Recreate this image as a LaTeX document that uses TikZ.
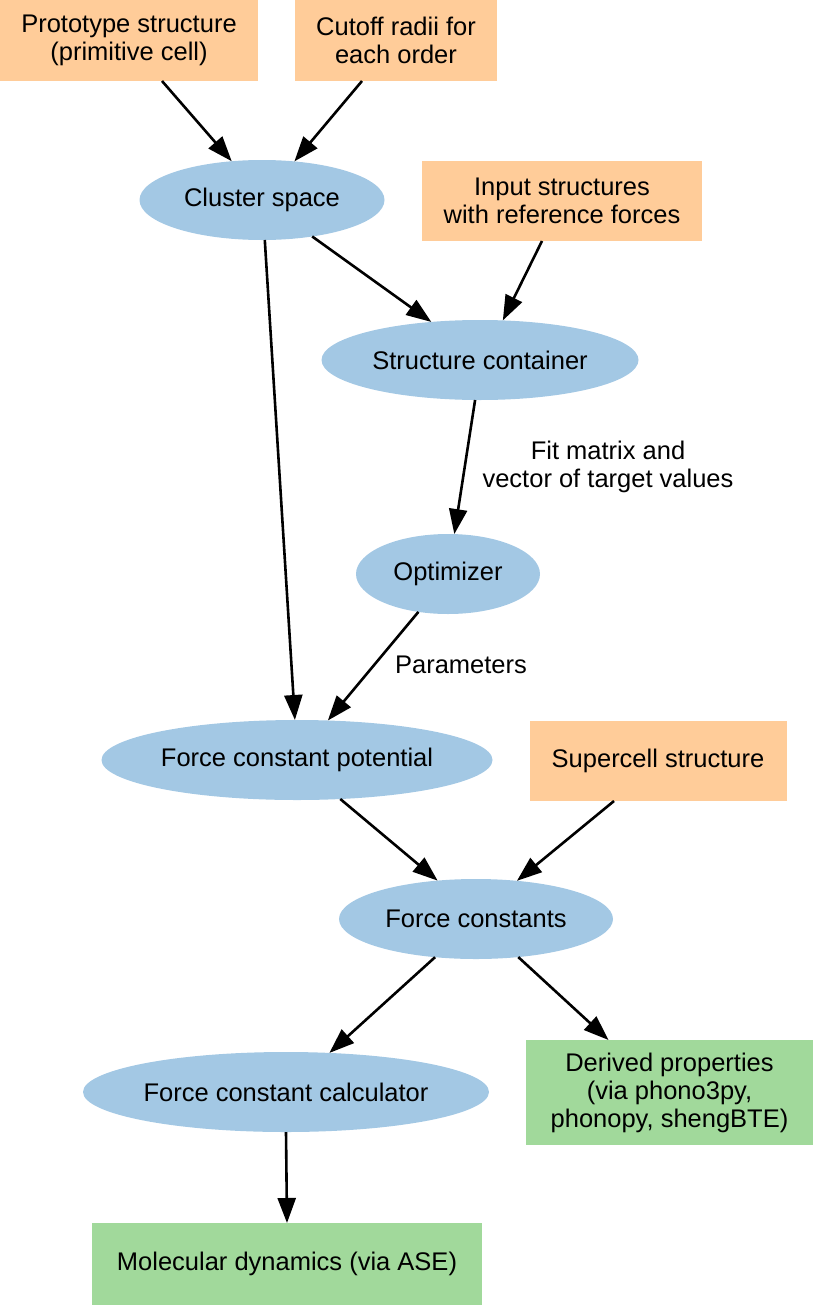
\documentclass[tikz,border=0pt]{standalone}
\usepackage{fontspec}
\setmainfont{Liberation Sans}
\usetikzlibrary{shapes.geometric,arrows.meta}
\definecolor{inbox}{HTML}{FFCC99}
\definecolor{ell}{HTML}{A3C8E4}
\definecolor{outbox}{HTML}{A1D99B}
\tikzset{
  base/.style={inner sep=0pt,outer sep=0pt,align=center,font=\fontsize{25.5}{28}\selectfont},
  inrect/.style={base,rectangle,fill=inbox},
  outrect/.style={base,rectangle,fill=outbox},
  ell/.style={base,ellipse,fill=ell,minimum height=80pt},
  lbl/.style={base},
  conn/.style={line width=2.6pt,-{Triangle[length=25pt,width=18pt]}}
}
\begin{document}
\begin{tikzpicture}[x=1pt,y=-1pt]
\useasboundingbox (0,0) rectangle (814,1306);
\node[inrect,minimum width=258pt,minimum height=81pt] (proto) at (129,40.5) {Prototype structure\\(primitive cell)};
\node[inrect,minimum width=202pt,minimum height=81pt] (cutoff) at (396,40.5) {Cutoff radii for\\each order};
\node[ell,minimum width=245pt] (cluster) at (262,200) {Cluster space};
\node[inrect,minimum width=280pt,minimum height=80pt] (input) at (562,201) {Input structures\\with reference forces};
\node[ell,minimum width=317pt] (sc) at (480,360) {Structure container};
\node[ell,minimum width=184pt] (opt) at (448,574) {Optimizer};
\node[ell,minimum width=391pt] (fcp) at (297,760) {Force constant potential};
\node[inrect,minimum width=257pt,minimum height=80pt] (super) at (658,761) {Supercell structure};
\node[ell,minimum width=274pt] (fc) at (476,919) {Force constants};
\node[ell,minimum width=406pt] (calc) at (286,1092) {Force constant calculator};
\node[outrect,minimum width=287pt,minimum height=105pt] (derived) at (669.5,1092.5) {Derived properties\\(via phono3py,\\phonopy, shengBTE)};
\node[outrect,minimum width=390pt,minimum height=82pt] (md) at (287,1264) {Molecular dynamics (via ASE)};
\node[lbl] (l1) at (608,467) {Fit matrix and\\vector of target values};
\node[lbl] (l2) at (461,665) {Parameters};
\draw[conn] ([xshift=33pt]proto.south) -- (cluster.128);
\draw[conn] ([xshift=-34pt]cutoff.south) -- (cluster.50);
\draw[conn] (cluster.-36) -- (sc.142);
\draw[conn] ([xshift=-20pt]input.south) -- (sc.60);
\draw[conn] (cluster.-86) -- (fcp.93);
\draw[conn] (sc.-97) -- (opt.81);
\draw[conn] (opt.-128) -- (fcp.52);
\draw[conn] (fcp.-42) -- (fc.135);
\draw[conn] ([xshift=-44pt]super.south) -- (fc.43);
\draw[conn] (fc.-137) -- (calc.42);
\draw[conn] (fc.-42) -- ([xshift=-61pt]derived.north);
\draw[conn] (calc.south) -- (md.north);
\end{tikzpicture}
\end{document}
